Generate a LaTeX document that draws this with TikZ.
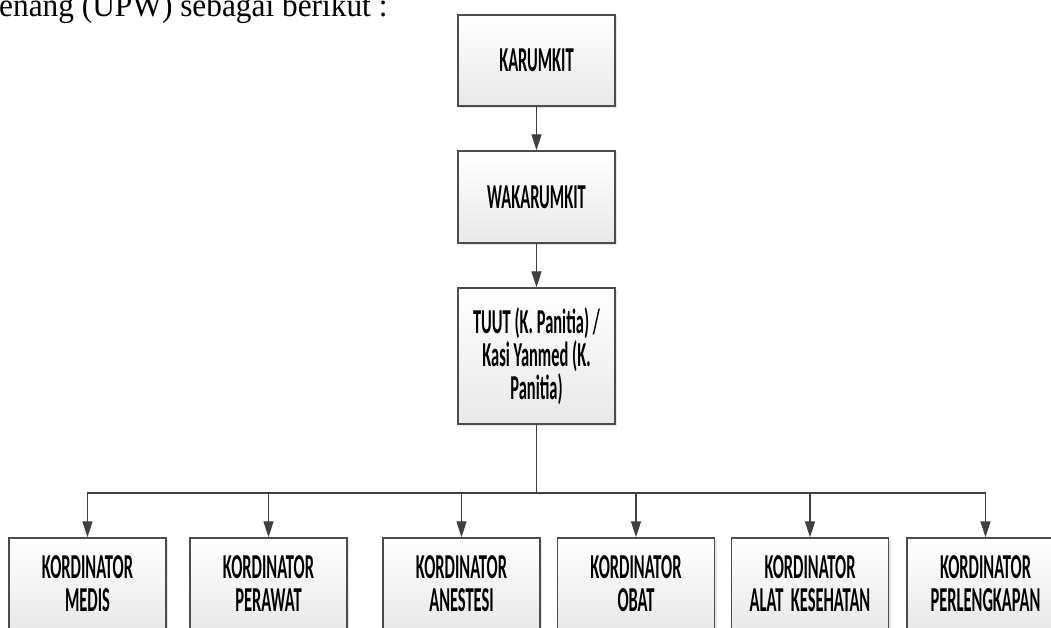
\documentclass[tikz,border=0pt]{standalone}
\usepackage{fontspec}
\setmainfont{Liberation Serif}
\newfontfamily\introfont[FakeStretch=0.95]{Liberation Serif}
\newfontfamily\boxfont[FakeStretch=0.47]{Carlito}
\usetikzlibrary{arrows.meta,shadows}
\tikzset{
  orgbox/.style={draw=black!70, line width=1.4pt, top color=white, bottom color=black!9,
    minimum width=157pt, minimum height=91pt, inner sep=0pt, align=center,
    font=\boxfont\bfseries\fontsize{35pt}{33pt}\selectfont,
    drop shadow={shadow xshift=2pt, shadow yshift=-2pt, opacity=0.25, fill=black!40}},
  conn/.style={draw=black!75, line width=1.3pt, -{Triangle[length=16pt,width=10pt]}},
  plain/.style={draw=black!75, line width=1.3pt},
}
\begin{document}
\begin{tikzpicture}[x=1pt,y=-1pt]
\clip (0,0) rectangle (1051,627);
\fill[white] (0,0) rectangle (1051,627);
\node[anchor=base west, inner sep=0pt, font=\introfont\fontsize{33pt}{38pt}\selectfont] (intro) at (-1,16.5) {enang (UPW) sebagai berikut :};
\node[orgbox] (k) at (536.5,60.5) {KARUMKIT};
\node[orgbox, minimum height=92pt] (w) at (536.5,197) {WAKARUMKIT};
\node[orgbox, minimum height=136pt] (t) at (536.5,356) {TUUT (K. Panitia) /\\Kasi Yanmed (K.\\Panitia)};
\node[orgbox, minimum height=92pt] (b1) at (87.5,584) {KORDINATOR\\MEDIS};
\node[orgbox, minimum height=92pt] (b2) at (268.5,584) {KORDINATOR\\PERAWAT};
\node[orgbox, minimum height=92pt] (b3) at (461.5,584) {KORDINATOR\\ANESTESI};
\node[orgbox, minimum height=92pt] (b4) at (636,584) {KORDINATOR\\OBAT};
\node[orgbox, minimum height=92pt] (b5) at (810,584) {KORDINATOR\\ALAT\ \ KESEHATAN};
\node[orgbox, minimum height=92pt] (b6) at (985.5,584) {KORDINATOR\\PERLENGKAPAN};
\coordinate (bus) at (536.5,493);
\draw[conn] (k.south) -- (w.north);
\draw[conn] (w.south) -- (t.north);
\draw[plain] (t.south) -- (bus);
\foreach \b in {b1,b2,b3,b4,b5,b6}{
  \draw[conn] (bus) -| (\b.north);
}
\end{tikzpicture}
\end{document}
